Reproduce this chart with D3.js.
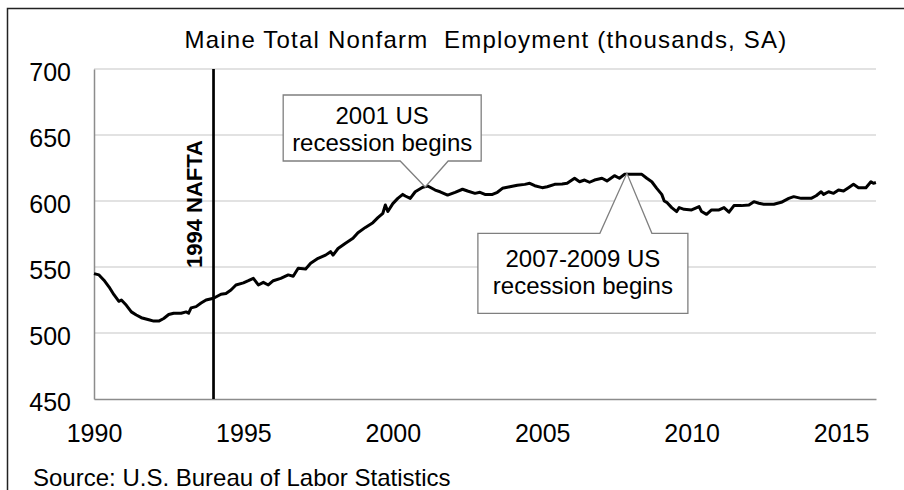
<!DOCTYPE html>
<html lang="en">
<head>
  <meta charset="UTF-8">
  <title>Maine Total Nonfarm Employment</title>
  <script src="https://d3js.org/d3.v7.min.js"></script>
  <style>
    body {
      margin: 0;
      padding: 0;
      background: #fff;
    }
    svg {
      display: block;
      font-family: "Liberation Sans", Arial, sans-serif;
    }
  </style>
</head>
<body>
  <div id="chart"></div>
  <script>
    // Monthly readings (thousands, SA)
    const months = [
      "1990-01","1990-03","1990-05","1990-07","1990-09","1990-11","1990-12",
      "1991-02","1991-04","1991-06","1991-08","1991-11",
      "1992-01","1992-03","1992-05","1992-07","1992-09","1992-12",
      "1993-02","1993-03","1993-04","1993-06","1993-08","1993-10",
      "1994-01","1994-04","1994-06","1994-08","1994-10",
      "1995-01","1995-03","1995-05","1995-07","1995-09","1995-11",
      "1996-01","1996-04","1996-07","1996-09","1996-11",
      "1997-02","1997-04","1997-07","1997-10","1997-12",
      "1998-01","1998-03","1998-06","1998-09","1998-11",
      "1999-02","1999-05","1999-07","1999-09","1999-10","1999-11",
      "2000-01","2000-03","2000-05","2000-06","2000-08","2000-10",
      "2001-01","2001-03","2001-06","2001-08","2001-11",
      "2002-02","2002-05","2002-07","2002-10","2002-12",
      "2003-02","2003-05","2003-07","2003-09","2003-12",
      "2004-03","2004-06","2004-08","2004-10",
      "2005-01","2005-03","2005-06","2005-09","2005-11",
      "2006-02","2006-04","2006-06","2006-08","2006-10",
      "2007-01","2007-03","2007-06","2007-08","2007-10",
      "2008-01","2008-05","2008-07","2008-09","2008-11",
      "2009-01","2009-02","2009-03","2009-05","2009-07","2009-08","2009-10",
      "2010-01","2010-04","2010-05","2010-07","2010-09","2010-12",
      "2011-02","2011-04","2011-06","2011-09","2011-12",
      "2012-02","2012-04","2012-06","2012-10",
      "2013-01","2013-04","2013-06","2013-09",
      "2014-01","2014-03","2014-05","2014-06","2014-08","2014-10","2014-12",
      "2015-02","2015-04","2015-06","2015-08","2015-11",
      "2016-01","2016-02","2016-03"
    ];
    const employment = [
      545, 544, 540, 535, 529, 524, 525,
      521, 516, 513.6, 511.6, 510,
      509, 509, 511, 514, 515, 515,
      516, 515, 519, 520, 522.7, 525,
      526.3, 529.4, 530, 532.6, 536.4,
      538, 539.6, 541.4, 536.4, 538.4, 536.4,
      539.6, 541.4, 544, 543, 549,
      548.5, 552.8, 556.6, 559, 561.6,
      559, 564, 568, 571.7, 576,
      580, 583.6, 587.4, 590.7, 597, 592,
      598, 602, 605, 603.8, 602, 607,
      610.4, 611.4, 608.3, 607, 604.5,
      606.6, 608.9, 607.6, 605.8, 606.6,
      605, 605, 606.6, 609.6, 610.8,
      612, 612.6, 613.4, 611.6,
      610.1, 610.8, 612.6, 612.9, 613.4,
      617.2, 614.6, 615.9, 614.2, 615.9,
      617.2, 615.2, 619.2, 617.2, 620.2,
      620.2, 620.2, 617.2, 614.6, 609.6,
      605, 600, 599, 595, 592, 595, 593.7,
      593.2, 595.7, 592, 589.9, 593.2, 593.2,
      595, 591.5, 596.5, 596.5, 597,
      599.5, 598.3, 597.5, 597.5,
      599, 602, 603.3, 602,
      602, 604, 607, 605, 607, 605.8, 608.3,
      607.6, 610.1, 612.6, 610.1, 610.1,
      614.6, 613.4, 614
    ];

    const yearTicks = [1990, 1995, 2000, 2005, 2010, 2015];
    const valueTicks = [450, 500, 550, 600, 650, 700];

    const naftaYear = 1994;
    const naftaLabel = "1994 NAFTA";

    const calloutLines = [["2001 US", "recession begins"], ["2007-2009 US", "recession begins"]];
    const calloutDates = ["2001-02", "2007-11"];
    const calloutValues = [610.6, 621];

    const title = "Maine Total Nonfarm\u00a0 Employment (thousands, SA)";
    const source = "Source: U.S. Bureau of Labor Statistics";

    const width = 904, height = 490;
    const margin = { top: 69, right: 28, bottom: 91, left: 94 };
    const innerW = width - margin.left - margin.right;
    const innerH = height - margin.top - margin.bottom;

    const toYear = s => {
      const [y, m] = s.split("-").map(Number);
      return y + (m - 1) / 12;
    };

    const series = months.map((m, i) => ({ t: toYear(m), v: employment[i] }));

    const x = d3.scaleLinear().domain([1990, 2016.17]).range([0, innerW]);
    const y = d3.scaleLinear().domain([450, 700]).range([innerH, 0]);

    const svg = d3.select("#chart").append("svg")
      .attr("width", width)
      .attr("height", height);

    // outer frame (cut off at right and bottom, as in the original crop)
    svg.append("rect")
      .attr("x", 7.5).attr("y", 8.5)
      .attr("width", 1000).attr("height", 1000)
      .attr("fill", "none")
      .attr("stroke", "#222")
      .attr("stroke-width", 1.5);

    svg.append("text")
      .attr("x", 486).attr("y", 48)
      .attr("text-anchor", "middle")
      .attr("font-size", 24)
      .attr("letter-spacing", 1.2)
      .attr("fill", "#000")
      .text(title);

    svg.append("text")
      .attr("x", 33).attr("y", 486)
      .attr("font-size", 24)
      .attr("fill", "#000")
      .text(source);

    const g = svg.append("g").attr("transform", `translate(${margin.left},${margin.top})`);

    // gridlines
    g.append("g")
      .selectAll("line")
      .data(valueTicks.filter(d => d > 450))
      .join("line")
      .attr("x1", 0).attr("x2", innerW)
      .attr("y1", d => y(d)).attr("y2", d => y(d))
      .attr("stroke", "#d9d9d9")
      .attr("stroke-width", 1.5);

    // y axis
    const yAxis = g.append("g")
      .call(d3.axisLeft(y).tickValues(valueTicks).tickSize(0).tickPadding(23));
    yAxis.select(".domain").attr("stroke", "#8c8c8c").attr("stroke-width", 1.5);
    yAxis.selectAll("text")
      .attr("font-size", 25)
      .attr("font-family", "Liberation Sans, Arial, sans-serif")
      .attr("fill", "#000")
      .attr("dy", "0.44em");

    // x axis
    const xAxis = g.append("g")
      .attr("transform", `translate(0,${innerH})`)
      .call(d3.axisBottom(x).tickValues(yearTicks).tickSize(0).tickPadding(25).tickFormat(d3.format("d")));
    xAxis.select(".domain").attr("stroke", "#8c8c8c").attr("stroke-width", 1.5);
    xAxis.selectAll("text")
      .attr("font-size", 25)
      .attr("font-family", "Liberation Sans, Arial, sans-serif")
      .attr("fill", "#000");

    // NAFTA marker
    g.append("line")
      .attr("x1", x(naftaYear)).attr("x2", x(naftaYear))
      .attr("y1", 0).attr("y2", innerH)
      .attr("stroke", "#000")
      .attr("stroke-width", 2.7);

    g.append("text")
      .attr("transform", `translate(${x(naftaYear) - 12},${y(600) + 3}) rotate(-90)`)
      .attr("text-anchor", "middle")
      .attr("font-size", 22)
      .attr("font-weight", "bold")
      .attr("fill", "#000")
      .text(naftaLabel);

    // employment line
    g.append("path")
      .datum(series)
      .attr("fill", "none")
      .attr("stroke", "#000")
      .attr("stroke-width", 3)
      .attr("stroke-linejoin", "round")
      .attr("d", d3.line().x(d => x(d.t)).y(d => y(d.v)));

    // callouts
    const boxes = [
      { w: 198, h: 66, dx: -43, dy: -92, below: false },
      { w: 210, h: 80, dx: -44, dy: 60, below: true }
    ];

    calloutLines.forEach((lines, i) => {
      const tx = x(toYear(calloutDates[i]));
      const ty = y(calloutValues[i]);
      const b = boxes[i];
      const cx = tx + b.dx;
      const left = cx - b.w / 2, right = cx + b.w / 2;
      const top = ty + b.dy;
      const bottom = top + b.h;
      let pts;
      if (b.below) {
        pts = [[left, top], [tx - 27, top], [tx, ty], [tx + 25, top], [right, top], [right, bottom], [left, bottom]];
      } else {
        pts = [[left, top], [right, top], [right, bottom], [tx + 23, bottom], [tx, ty], [tx - 25, bottom], [left, bottom]];
      }
      g.append("path")
        .attr("d", d3.line()(pts) + "Z")
        .attr("fill", "#fff")
        .attr("stroke", "#7f7f7f")
        .attr("stroke-width", 1.3);

      const firstBase = b.below ? top + 34 : top + 29;
      g.append("text")
        .attr("text-anchor", "middle")
        .attr("font-size", 24)
        .attr("fill", "#000")
        .selectAll("tspan")
        .data(lines)
        .join("tspan")
        .attr("x", cx)
        .attr("y", (d, j) => firstBase + j * 27)
        .text(d => d);
    });
  </script>
</body>
</html>
